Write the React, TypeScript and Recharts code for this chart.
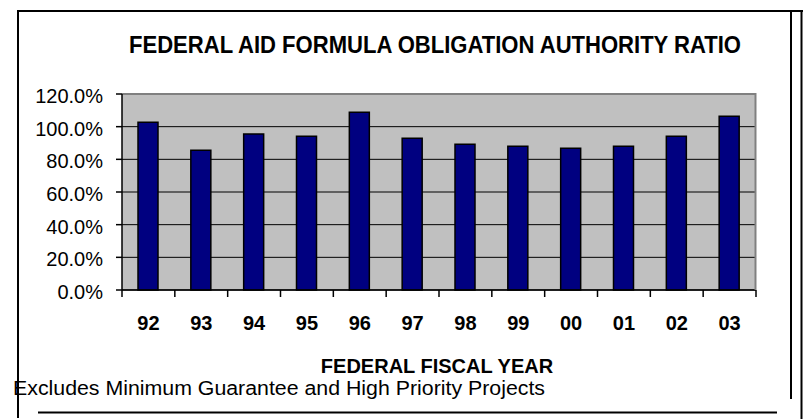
import { BarChart, Bar, XAxis, YAxis, CartesianGrid, ReferenceLine } from 'recharts';

const years = ['92', '93', '94', '95', '96', '97', '98', '99', '00', '01', '02', '03'];
const ratios = [102.7, 85.5, 95.5, 94.1, 108.8, 92.9, 89.2, 88.0, 86.8, 88.0, 94.1, 106.4];
const yTicks = [0, 20, 40, 60, 80, 100, 120];

const data = years.map((year, i) => ({ year, ratio: ratios[i] }));

const W = 803;
const H = 419;
const margin = { top: 94, right: 47, bottom: 89, left: 22 };
const yAxisWidth = 100;
const plotWidth = W - margin.left - margin.right - yAxisWidth;
const band = plotWidth / years.length;
const font = '"Liberation Sans", Arial, sans-serif';

// x ticks sit on the category boundaries, labels in the middle
function YearTick(props: any) {
  const { x, y, payload, index } = props;
  const last = index === years.length - 1;
  return (
    <g>
      <line x1={x - band / 2} y1={y} x2={x - band / 2} y2={y + 7} stroke="#000" strokeWidth={1.5} />
      {last && <line x1={x + band / 2} y1={y} x2={x + band / 2} y2={y + 7} stroke="#000" strokeWidth={1.5} />}
      <text x={x} y={y + 40} textAnchor="middle" fontFamily={font} fontWeight="bold" fontSize={20} fill="#000">
        {payload.value}
      </text>
    </g>
  );
}

export default function App() {
  return (
    <div style={{ position: 'absolute', left: 0, top: 0, width: W, height: H, background: '#fff' }}>
      <BarChart width={W} height={H} data={data} margin={margin}>
        <CartesianGrid vertical={false} stroke="#000" fill="#c0c0c0" />
        <XAxis
          dataKey="year"
          height={40}
          tickSize={0}
          tickMargin={0}
          interval={0}
          axisLine={{ stroke: '#000', strokeWidth: 1.5 }}
          tickLine={false}
          tick={<YearTick />}
        />
        <YAxis
          width={yAxisWidth}
          domain={[0, 120]}
          ticks={yTicks}
          tickFormatter={(v: number) => v.toFixed(1) + '%'}
          axisLine={{ stroke: '#000', strokeWidth: 1.5 }}
          tickLine={{ stroke: '#000', strokeWidth: 1.5 }}
          tickSize={6}
          tickMargin={13}
          tick={{ fill: '#000', fontSize: 20, fontFamily: font, dy: 2 }}
        />
        <ReferenceLine y={120} stroke="#808080" strokeWidth={2} />
        <Bar dataKey="ratio" fill="#000080" stroke="#000" strokeWidth={1.5} barSize={20} isAnimationActive={false} />
      </BarChart>
      <svg width={W} height={H} style={{ position: 'absolute', left: 0, top: 0, pointerEvents: 'none' }}>
        <line x1={755.5} y1={93} x2={755.5} y2={290} stroke="#808080" strokeWidth={2} />
        <line x1={17} y1={11} x2={W} y2={11} stroke="#000" strokeWidth={2} />
        <line x1={18} y1={10} x2={18} y2={418} stroke="#000" strokeWidth={2} />
        <line x1={791} y1={12} x2={791} y2={399} stroke="#000" strokeWidth={2} />
        <line x1={801.5} y1={10} x2={801.5} y2={H} stroke="#000" strokeWidth={2} />
        <line x1={38} y1={412.5} x2={777} y2={412.5} stroke="#000" strokeWidth={2} />
        <text x={435} y={53} textAnchor="middle" fontFamily={font} fontWeight="bold" fontSize={23} fill="#000"
          textLength={612} lengthAdjust="spacingAndGlyphs">
          FEDERAL AID FORMULA OBLIGATION AUTHORITY RATIO
        </text>
        <text x={437} y={373} textAnchor="middle" fontFamily={font} fontWeight="bold" fontSize={20} fill="#000">
          FEDERAL FISCAL YEAR
        </text>
        <text x={13} y={395} fontFamily={font} fontSize={20} fill="#000" textLength={532} lengthAdjust="spacingAndGlyphs">
          Excludes Minimum Guarantee and High Priority Projects
        </text>
      </svg>
    </div>
  );
}
